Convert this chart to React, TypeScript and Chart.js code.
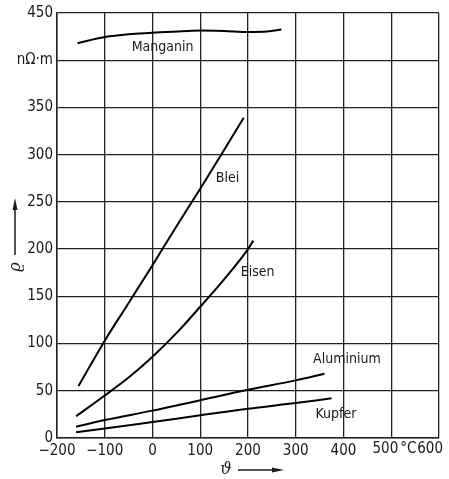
import React, { useEffect, useRef } from "react";
import { Chart, registerables } from "chart.js";

Chart.register(...registerables);

// ---- data ----
const manganinX = [-157, -100, -50, 0, 50, 100, 150, 200, 240, 270];
const manganinY = [418, 424.5, 427.5, 429, 430.5, 431.5, 431, 430, 430.5, 432.5];
const bleiX = [-155, -100, -50, 0, 50, 100, 150, 191];
const bleiY = [55, 103, 143, 183, 224, 264, 305, 339];
const eisenX = [-160, -100, -50, 0, 50, 100, 150, 200, 211];
const eisenY = [23, 45, 64, 86, 111, 139, 168, 200, 209];
const aluX = [-160, -100, 0, 100, 200, 300, 360];
const aluY = [12, 19, 29, 40, 51, 61, 68];
const kupferX = [-160, -100, 0, 100, 200, 300, 375];
const kupferY = [6, 10, 17, 24, 31, 37, 42];

const seriesNames = ["Manganin", "Blei", "Eisen", "Aluminium", "Kupfer"];
const labelX = [21, 157, 220, 407, 384];
const labelY = [414, 275, 175, 83, 25];

const xTicks = [-200, -100, 0, 100, 200, 300, 400, 500, 600];
const yTicks = [0, 50, 100, 150, 200, 250, 300, 350, 400, 450];
const yUnitLabel = "nΩ·m";
const xUnitLabel = "°C";
const yTitle = "ϱ";
const xTitle = "ϑ";

const FONT = '"DejaVu Sans Condensed", "Liberation Sans Narrow", "Liberation Sans", sans-serif';
const INK = "#1a1a1a";

function pts(xs: number[], ys: number[]) {
  return xs.map((x, i) => ({ x, y: ys[i] }));
}

const textPlugin = {
  id: "texts",
  afterDraw(chart: any) {
    const ctx = chart.ctx;
    const xs = chart.scales.x;
    const ys = chart.scales.y;
    const area = chart.chartArea;
    ctx.save();
    ctx.fillStyle = INK;
    ctx.font = `14px ${FONT}`;
    ctx.textAlign = "center";
    ctx.textBaseline = "middle";
    seriesNames.forEach((n, i) => {
      ctx.fillText(n, xs.getPixelForValue(labelX[i]), ys.getPixelForValue(labelY[i]));
    });
    // x tick labels for 500 and 600 with unit
    ctx.font = `15px ${FONT}`;
    ctx.textBaseline = "top";
    const ty = area.bottom + 4;
    ctx.textAlign = "right";
    ctx.fillText("600", 443, ty);
    ctx.fillText("500", xs.getPixelForValue(500) + 7, ty);
    ctx.textAlign = "left";
    ctx.fillText(xUnitLabel, xs.getPixelForValue(500) + 9, ty);
    // y axis title with arrow
    ctx.strokeStyle = INK;
    ctx.lineWidth = 1.5;
    const ax = 15;
    ctx.beginPath();
    ctx.moveTo(ax, 255);
    ctx.lineTo(ax, 206);
    ctx.stroke();
    ctx.beginPath();
    ctx.moveTo(ax, 198);
    ctx.lineTo(ax - 2.5, 210);
    ctx.lineTo(ax + 2.5, 210);
    ctx.closePath();
    ctx.fill();
    ctx.save();
    ctx.translate(ax + 1, 267);
    ctx.rotate(-Math.PI / 2);
    ctx.font = `italic 16px "DejaVu Serif", serif`;
    ctx.textAlign = "center";
    ctx.textBaseline = "middle";
    ctx.fillText(yTitle, 0, 0);
    ctx.restore();
    // x axis title with arrow
    ctx.font = `italic 16px "DejaVu Serif", serif`;
    ctx.textAlign = "center";
    ctx.textBaseline = "middle";
    ctx.fillText(xTitle, 226, 470);
    const ay = 470;
    ctx.beginPath();
    ctx.moveTo(238, ay);
    ctx.lineTo(275, ay);
    ctx.stroke();
    ctx.beginPath();
    ctx.moveTo(284, ay);
    ctx.lineTo(272, ay - 2.5);
    ctx.lineTo(272, ay + 2.5);
    ctx.closePath();
    ctx.fill();
    ctx.restore();
  },
};

export default function App() {
  const ref = useRef<HTMLCanvasElement>(null);
  useEffect(() => {
    if (!ref.current) return;
    const mk = (label: string, xs: number[], ys: number[]) => ({
      label,
      data: pts(xs, ys),
      borderColor: "#000",
      borderWidth: 2,
      pointRadius: 0,
      showLine: true,
      fill: false,
      cubicInterpolationMode: "monotone" as const,
    });
    const chart = new Chart(ref.current, {
      type: "scatter",
      data: {
        datasets: [
          mk("Manganin", manganinX, manganinY),
          mk("Blei", bleiX, bleiY),
          mk("Eisen", eisenX, eisenY),
          mk("Aluminium", aluX, aluY),
          mk("Kupfer", kupferX, kupferY),
        ],
      },
      options: {
        animation: false,
        responsive: false,
        maintainAspectRatio: false,
        layout: { padding: { top: 11, right: 10, left: 0, bottom: 0 } },
        plugins: { legend: { display: false }, tooltip: { enabled: false } },
        scales: {
          x: {
            type: "linear",
            min: -200,
            max: 600,
            afterBuildTicks: (s: any) => {
              s.ticks = xTicks.map((v) => ({ value: v }));
            },
            afterFit: (s: any) => {
              s.height = 41;
            },
            ticks: {
              autoSkip: false,
              maxRotation: 0,
              padding: 4,
              color: INK,
              font: { family: FONT, size: 15 },
              callback: (v: any) => (v >= 500 ? "" : v < 0 ? "−" + Math.abs(v) : String(v)),
            },
            grid: { color: "#222", lineWidth: 1.3, drawTicks: false },
            border: { color: "#222", width: 1.5 },
          },
          y: {
            type: "linear",
            min: 0,
            max: 450,
            afterBuildTicks: (s: any) => {
              s.ticks = yTicks.map((v) => ({ value: v }));
            },
            afterFit: (s: any) => {
              s.width = 57;
            },
            ticks: {
              autoSkip: false,
              padding: 4,
              color: INK,
              font: { family: FONT, size: 15 },
              callback: (v: any) => (v === 400 ? yUnitLabel : String(v)),
            },
            grid: { color: "#222", lineWidth: 1.3, drawTicks: false },
            border: { color: "#222", width: 1.5 },
          },
        },
      },
      plugins: [textPlugin],
    } as any);
    return () => chart.destroy();
  }, []);
  return (
    <div style={{ position: "fixed", left: 0, top: 0, width: 449, height: 479, background: "#fff" }}>
      <canvas ref={ref} width={449} height={479} style={{ display: "block" }} />
    </div>
  );
}
